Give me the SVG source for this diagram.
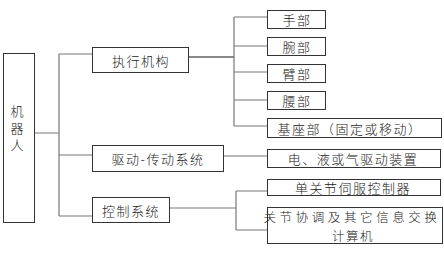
<svg xmlns="http://www.w3.org/2000/svg" width="444" height="255" viewBox="0 0 444 255">
<style>
.box{fill:#fff;stroke:#333;stroke-width:1}
.t{font-family:"Noto Sans CJK SC","Noto Sans CJK JP",sans-serif;font-size:13px;font-weight:300;fill:#222;letter-spacing:1.5px;dominant-baseline:central;text-anchor:middle}
.c{fill:none;stroke:#777;stroke-width:1.2}
.k{fill:none;stroke:#111;stroke-width:1}
</style>
<rect width="444" height="255" fill="#fff"/>
<g id="connectors">
<path class="c" d="M34 133H59M59 54V216M59 54H92M59 155H92M59 216H92"/>
<path class="k" d="M189 57H234"/>
<path class="c" d="M234 17V126M234 17H267M234 46H267M234 72H267M234 100H267M234 126H267"/>
<path class="c" d="M223 156H267"/>
<path class="c" d="M170 208H236M236 191V230M236 191H267M236 230H267"/>
</g>
<g id="robot"><rect class="box" x="3.5" y="53.5" width="31" height="169"/>
<text class="t" x="17" y="130" style="writing-mode:vertical-rl;letter-spacing:4px">机器人</text></g>
<g id="actuator"><rect class="box" x="92.5" y="47.5" width="96" height="25"/><text class="t" x="141" y="60">执行机构</text></g>
<g id="drive"><rect class="box" x="92.5" y="145.5" width="131" height="26"/><text class="t" x="158" y="158">驱动-传动系统</text></g>
<g id="control"><rect class="box" x="92.5" y="197.5" width="77" height="25"/><text class="t" x="131" y="210">控制系统</text></g>
<g id="hand"><rect class="box" x="267.5" y="10.5" width="58" height="18"/><text class="t" x="297" y="19.5">手部</text></g>
<g id="wrist"><rect class="box" x="267.5" y="37.5" width="58" height="18"/><text class="t" x="297" y="46.5">腕部</text></g>
<g id="arm"><rect class="box" x="267.5" y="64.5" width="58" height="18"/><text class="t" x="297" y="73.5">臂部</text></g>
<g id="waist"><rect class="box" x="267.5" y="91.5" width="58" height="18"/><text class="t" x="297" y="100.5">腰部</text></g>
<g id="base"><rect class="box" x="267.5" y="118.5" width="174" height="19"/><text class="t" x="350" y="128">基座部（固定或移动）</text></g>
<g id="power"><rect class="box" x="267.5" y="149.5" width="173" height="18"/><text class="t" x="353" y="158.5">电、液或气驱动装置</text></g>
<g id="servo"><rect class="box" x="267.5" y="179.5" width="173" height="16"/><text class="t" x="353" y="187">单关节伺服控制器</text></g>
<g id="computer"><rect class="box" x="267.5" y="207.5" width="175" height="36"/><text class="t" x="352" y="216.5" style="font-size:12.5px;letter-spacing:3.6px">关节协调及其它信息交换</text><text class="t" x="353" y="235" style="font-size:12.5px">计算机</text></g>
</svg>
